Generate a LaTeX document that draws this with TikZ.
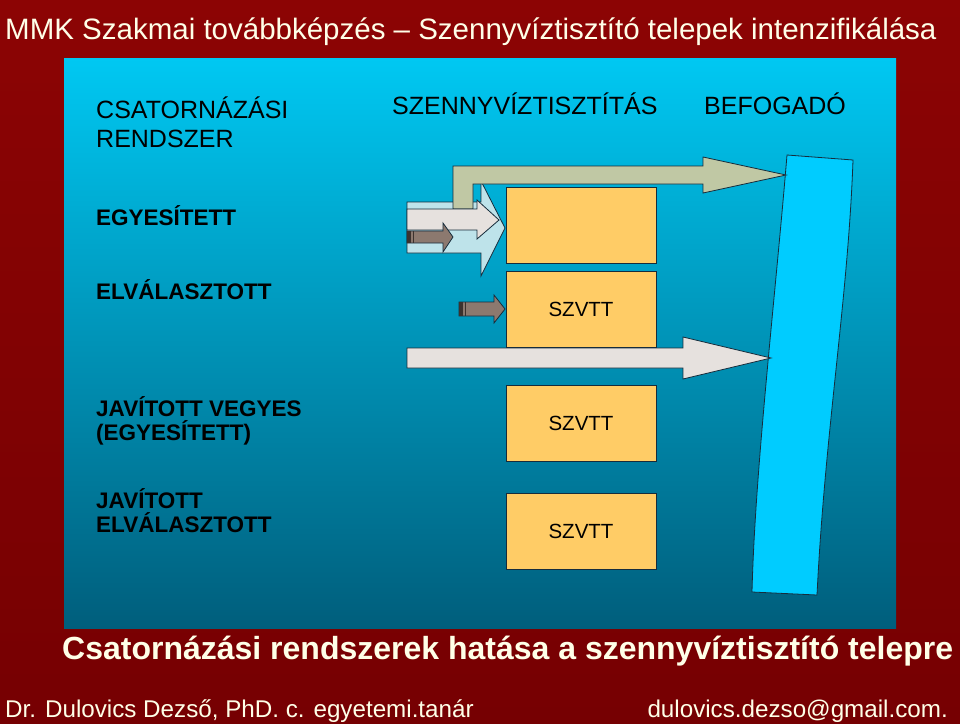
\documentclass[tikz,border=0pt]{standalone}
\usepackage{fontspec}
\setmainfont{Liberation Sans}
\definecolor{bgtop}{RGB}{140,4,4}
\definecolor{bgbot}{RGB}{118,0,2}
\definecolor{pantop}{RGB}{0,200,242}
\definecolor{panbot}{RGB}{0,94,124}
\definecolor{river}{RGB}{0,204,255}
\definecolor{orangebox}{RGB}{255,204,102}
\definecolor{greenarr}{RGB}{192,200,164}
\definecolor{lbluearr}{RGB}{190,227,234}
\definecolor{whitearr}{RGB}{230,225,222}
\definecolor{brownarr}{RGB}{140,121,111}
\definecolor{browndark}{RGB}{60,50,46}
\definecolor{outline}{RGB}{22,44,60}
\definecolor{titlecol}{RGB}{255,255,232}
\begin{document}
\begin{tikzpicture}[x=1pt,y=-1pt,
  outl/.style={draw=outline, line width=0.8pt, line join=miter},
  box/.style={outl, fill=orangebox, minimum width=150pt, minimum height=76pt, inner sep=0pt, font=\fontsize{20.5}{24}\selectfont},
  lbl/.style={anchor=base west, inner sep=0pt, font=\fontsize{22.5}{24}\selectfont\bfseries, align=left},
  hdr/.style={anchor=base west, inner sep=0pt, font=\fontsize{25}{29}\selectfont, align=left},
  wtxt/.style={anchor=base west, inner sep=0pt, text=titlecol}
]
\useasboundingbox (0,0) rectangle (960,723);
\shade[top color=bgtop, bottom color=bgbot] (0,0) rectangle (960,723);
% panel
\shade[top color=pantop, bottom color=panbot] (64,58) rectangle (896,628);
% title and footer
\node[wtxt, font=\fontsize{29.5}{32}\selectfont] (title) at (5,39) {MMK Szakmai továbbképzés – Szennyvíztisztító telepek intenzifikálása};
\node[wtxt, font=\fontsize{32}{36}\selectfont\bfseries] (caption) at (62,659) {Csatornázási rendszerek hatása a szennyvíztisztító telepre};
\node[wtxt, font=\fontsize{24.2}{28}\selectfont] (author) at (5,717) {Dr. Dulovics Dezső, PhD. c. egyetemi.tanár};
\node[wtxt, font=\fontsize{24.2}{28}\selectfont, anchor=base east] (email) at (948,717) {dulovics.dezso@gmail.com.};
% headers
\node[hdr] (hcsat) at (96,147) {CSATORNÁZÁSI\\RENDSZER};
\node[hdr] (hszv) at (392,114) {SZENNYVÍZTISZTÍTÁS};
\node[hdr] (hbef) at (704,114) {BEFOGADÓ};
% left labels
\node[lbl] (legy) at (96,225) {EGYESÍTETT};
\node[lbl] (lelv) at (96,299) {ELVÁLASZTOTT};
\node[lbl] (ljv) at (96,440) {JAVÍTOTT VEGYES\\(EGYESÍTETT)};
\node[lbl] (lje) at (96,532) {JAVÍTOTT\\ELVÁLASZTOTT};
% river
\path[outl, fill=river] (787,155) -- (853,160) .. controls (848,300) and (825,430) .. (817,595)
  -- (752,592) .. controls (755,470) and (775,300) .. (787,155) -- cycle;
% boxes
\node[box] (b1) at (581,225) {};
\node[box] (b2) at (581,309) {SZVTT};
\node[box] (b3) at (581,423) {SZVTT};
\node[box] (b4) at (581,531) {SZVTT};
% big grey bypass arrow
\path[outl, fill=whitearr] (407,348) -- (683,348) -- (683,337) -- (771,358) -- (683,379) -- (683,368) -- (407,368) -- cycle;
% light blue arrow
\path[outl, fill=lbluearr] (407,202) -- (481,202) -- (481,181) -- (505,228) -- (481,276) -- (481,253) -- (407,253) -- cycle;
% green L arrow to receiver
\path[outl, fill=greenarr] (453,209) -- (453,166) -- (703,166) -- (703,157) -- (786,175) -- (703,193) -- (703,184) -- (473,184) -- (473,209) -- cycle;
% white arrow
\path[outl, fill=whitearr] (407,209) -- (477,209) -- (477,200) -- (499,220) -- (477,239) -- (477,230) -- (407,230) -- cycle;
% brown arrow 1
\path[outl, fill=brownarr] (407,231) -- (443,231) -- (443,223) -- (453,237) -- (443,252) -- (443,243) -- (407,243) -- cycle;
\fill[browndark] (407.4,231.4) rectangle (411,242.6);
\draw[browndark, line width=0.8pt] (413,231.4) -- (413,242.6);
% brown arrow 2
\path[outl, fill=brownarr] (459,302) -- (494,302) -- (494,295) -- (505,309) -- (494,323) -- (494,316) -- (459,316) -- cycle;
\fill[browndark] (459.4,302.4) rectangle (463,315.6);
\draw[browndark, line width=0.8pt] (465,302.4) -- (465,315.6);
\end{tikzpicture}
\end{document}
